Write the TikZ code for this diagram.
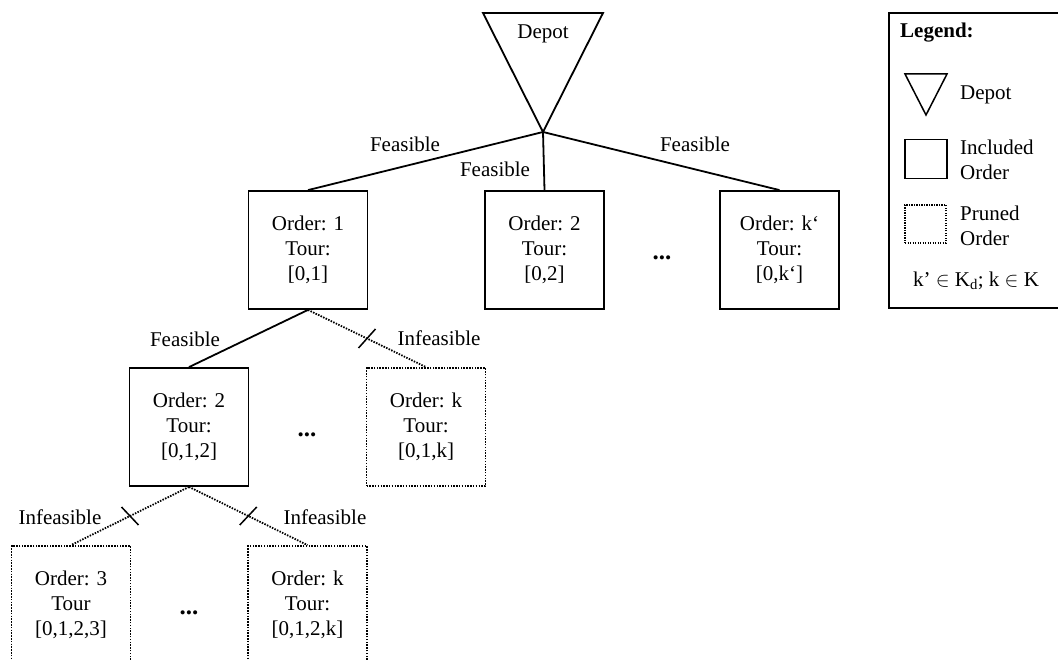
\documentclass[tikz,border=0pt]{standalone}
\usepackage{fontspec}
\setmainfont{Liberation Serif}
\usetikzlibrary{calc}
\begin{document}
\begin{tikzpicture}[x=1pt,y=-1pt,
  every node/.style={font=\fontsize{21}{25}\selectfont},
  solidline/.style={line width=1.8pt},
  dotline/.style={line width=1.8pt, dash pattern=on 1.5pt off 1.3pt},
  orderbox/.style={draw, solidline, rectangle, minimum width=119pt, minimum height=118pt, inner sep=0pt, align=center},
  prunedbox/.style={draw, dotline, rectangle, minimum width=119pt, minimum height=118pt, inner sep=0pt, align=center},
  lbl/.style={inner sep=0pt},
  dots/.style={inner sep=0pt, font=\fontsize{25}{25}\selectfont\bfseries}
]
\useasboundingbox (0,0) rectangle (1058,660);
\clip (0,0) rectangle (1058,660);

% Depot triangle
\coordinate (apex) at (543,132);
\coordinate (tl) at (483,13);
\coordinate (tr) at (603,13);
\draw[solidline, line join=miter] (tl) -- (tr) -- (apex) -- cycle;
\node[lbl] (depot) at (543,34) {Depot};

% Level 1
\node[orderbox] (o1) at (308,250) {Order: 1\\Tour:\\{[0,1]}};
\node[orderbox] (o2) at (544.5,250) {Order: 2\\Tour:\\{[0,2]}};
\node[orderbox] (ok) at (779.5,250) {Order: k‘\\Tour:\\{[0,k‘]}};
\node[dots] (d1) at (662,258) {...};

\draw[solidline] (apex) -- (o1.north);
\draw[solidline] (apex) -- (o2.north);
\draw[solidline] (apex) -- (ok.north);
\node[lbl] (f1) at (405,144) {Feasible};
\node[lbl] (f2) at (495,169) {Feasible};
\node[lbl] (f3) at (695,144) {Feasible};

% Level 2
\node[orderbox] (o12) at (189,427) {Order: 2\\Tour:\\{[0,1,2]}};
\node[prunedbox] (o1k) at (426,427) {Order: k\\Tour:\\{[0,1,k]}};
\node[dots] (d2) at (307,435) {...};

\draw[solidline] (o1.south) -- (o12.north);
\draw[dotline] (o1.south) -- (o1k.north);
\coordinate (m2) at ($(o1.south)!0.5!(o1k.north)$);
\draw[solidline, line width=1.5pt] ($(m2)+(-8.5,9.5)$) -- ($(m2)+(8.5,-9.5)$);
\node[lbl] (f4) at (185,339) {Feasible};
\node[lbl] (i1) at (439,338) {Infeasible};

% Level 3
\node[prunedbox] (o123) at (71,605) {Order: 3\\Tour\\{[0,1,2,3]}};
\node[prunedbox] (o12k) at (307.5,605) {Order: k\\Tour:\\{[0,1,2,k]}};
\node[dots] (d3) at (189,613) {...};

\draw[dotline] (o12.south) -- (o123.north);
\draw[dotline] (o12.south) -- (o12k.north);
\coordinate (m3) at ($(o12.south)!0.5!(o123.north)$);
\coordinate (m4) at ($(o12.south)!0.5!(o12k.north)$);
\draw[solidline, line width=1.5pt] ($(m3)+(-8.5,-9)$) -- ($(m3)+(8.5,9)$);
\draw[solidline, line width=1.5pt] ($(m4)+(-8.5,9)$) -- ($(m4)+(8.5,-9)$);
\node[lbl] (i2) at (60,517) {Infeasible};
\node[lbl] (i3) at (325,517) {Infeasible};

% Legend
\node[draw, solidline, rectangle, minimum width=174pt, minimum height=295pt, inner sep=0pt] (legend) at (976,160.5) {};
\node[lbl, anchor=west, font=\fontsize{21}{25}\selectfont\bfseries] (legtitle) at (900,33) {Legend:};
\coordinate (lt1) at (905,74);
\coordinate (lt2) at (947,74);
\coordinate (lt3) at (926,115);
\draw[line width=1.5pt, line join=miter] (lt1) -- (lt2) -- (lt3) -- cycle;
\node[lbl, anchor=west] (legdepot) at (960,95) {Depot};
\node[draw, line width=1.6pt, rectangle, minimum width=42pt, minimum height=39pt, inner sep=0pt] (legsq) at (926,159) {};
\node[lbl, anchor=west, align=left] (leginc) at (960,160) {Included\\Order};
\node[draw, line width=1.5pt, dash pattern=on 1.3pt off 1.2pt, rectangle, minimum width=41pt, minimum height=38pt, inner sep=0pt] (legdot) at (925.5,224) {};
\node[lbl, anchor=west, align=left] (legpr) at (960,226) {Pruned\\Order};
\node[lbl] (legform) at (976,281) {k’ $\in$ K\textsubscript{d}; k $\in$ K};
\end{tikzpicture}
\end{document}
